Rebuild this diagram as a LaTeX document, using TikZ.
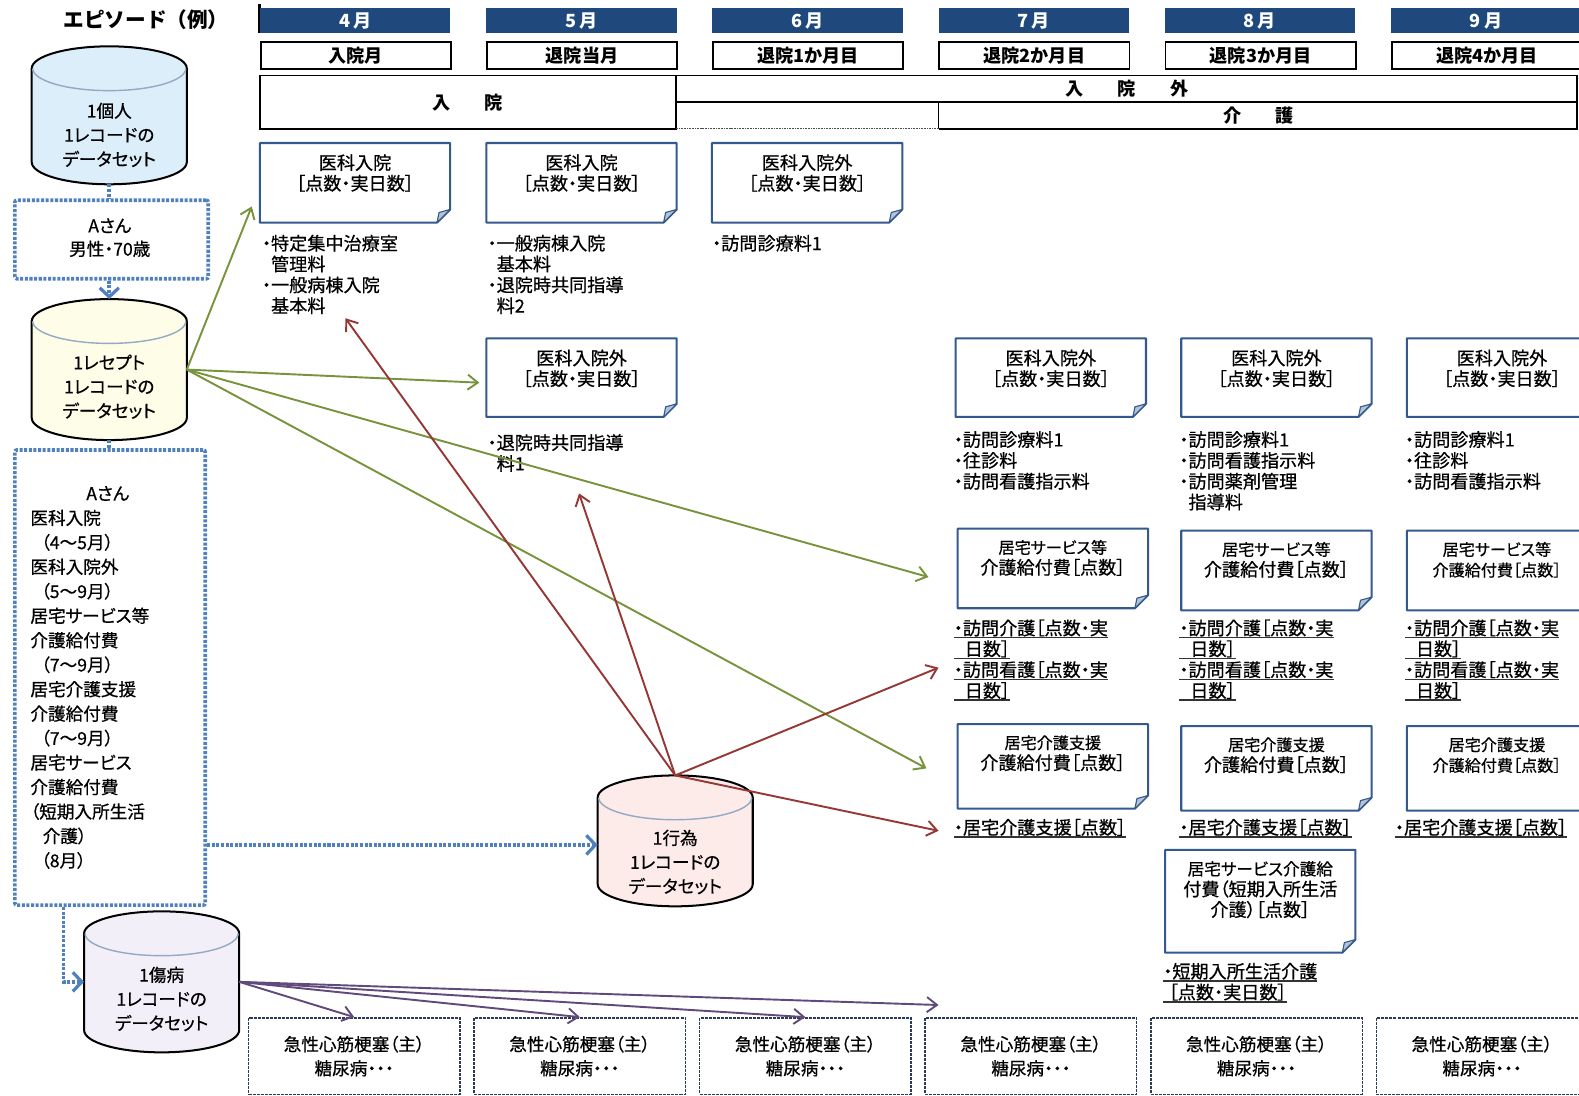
\documentclass[tikz,border=0pt]{standalone}
\usepackage{fontspec}
\setmainfont{Noto Sans CJK JP}[CharacterWidth=AlternateProportional, UprightFeatures={FakeBold=0.6}]
\newfontfamily\headfont{Noto Sans CJK JP}
\usetikzlibrary{arrows.meta,calc}

\definecolor{monthblue}{HTML}{1F497D}
\definecolor{noteblue}{HTML}{34598C}
\definecolor{foldgray}{HTML}{B4C2D6}
\definecolor{dotblue}{HTML}{4F81BD}
\definecolor{arrgreen}{HTML}{77933C}
\definecolor{arrred}{HTML}{953735}
\definecolor{arrpurple}{HTML}{604A7B}
\definecolor{rimgray}{HTML}{93A9C4}
\definecolor{diagnavy}{HTML}{2B3A57}
\definecolor{drumblue}{HTML}{DCEEFA}
\definecolor{drumyellow}{HTML}{FEFDE8}
\definecolor{drumpink}{HTML}{FDEBEA}
\definecolor{drumlilac}{HTML}{F3EFF9}
\definecolor{ulgray}{HTML}{333333}

\newcommand\fz[2]{\fontsize{#1}{#2}\selectfont}
% underlined line with a heavier rule
\newcommand\uln[1]{\setbox0=\hbox{#1}\rlap{\color{ulgray}\rule[-3.5pt]{\wd0}{1.5pt}}\box0}

% outline of a memo sheet with a folded bottom-right corner
\newcommand\foldframe[1]{%
  \draw[noteframe] (#1.north west) -- (#1.north east) -- ([yshift=13pt]#1.south east)
     -- ([xshift=-13pt]#1.south east) -- (#1.south west) -- cycle;
  \filldraw[foldflap] ([yshift=13pt]#1.south east) -- ([xshift=-11pt,yshift=10pt]#1.south east)
     -- ([xshift=-13pt]#1.south east) -- cycle;
}
% memo sheet: name, left, top, height, title
\newcommand\memo[5]{%
  \node[memobox, minimum height=#4pt] (#1) at (#2,#3) {};
  \foldframe{#1}
  \node[memotitle] (#1t) at ([yshift=-11pt]#1.north) {#5};
}
% database drum: name, centre x, top, bottom, fill
\newcommand\dbdrum[5]{%
  \pgfmathsetmacro\drumhalf{(#4-#3)/2}
  \pgfmathsetmacro\drumh{#4-#3}
  \begin{scope}[shift={(#2,{(#3+#4)/2})}, y=1pt]
    \filldraw[fill=#5, draw=black, line width=2pt]
      (-77,\drumhalf-22) -- (-77,-\drumhalf+22)
      arc[start angle=180, end angle=360, x radius=77pt, y radius=22pt]
      -- (77,\drumhalf-22)
      arc[start angle=0, end angle=180, x radius=77pt, y radius=22pt] -- cycle;
    \draw[rimgray, line width=1.4pt] (-76,\drumhalf-22)
      arc[start angle=180, end angle=360, x radius=76pt, y radius=22pt];
  \end{scope}
  \node[drumbox, minimum height=\drumh pt] (#1) at (#2,{(#3+#4)/2}) {};
}

\begin{document}
\begin{tikzpicture}[x=1pt, y=-1pt,
  monthbar/.style={fill=monthblue, text=white, font=\fz{18}{20}\bfseries,
    minimum width=189pt, minimum height=25pt, inner sep=0pt, anchor=north west},
  phasebox/.style={draw=black, line width=1.8pt, font=\fz{18}{20}\bfseries,
    minimum width=189pt, minimum height=27pt, inner sep=0pt, anchor=north west},
  bandline/.style={draw=black, line width=1.8pt},
  bandtext/.style={font=\fz{18}{20}\bfseries, inner sep=0pt},
  memobox/.style={minimum width=189pt, inner sep=0pt, outer sep=0pt, anchor=north west},
  noteframe/.style={draw=noteblue, line width=2pt, fill=white, line join=round},
  foldflap/.style={fill=foldgray, draw=noteblue, line width=1.1pt, line join=round},
  memotitle/.style={font=\fz{18}{20.5}, align=center, anchor=north, inner sep=0pt},
  listtext/.style={font=\fz{18}{20.7}, align=left, anchor=north west, inner sep=0pt},
  drumbox/.style={minimum width=154pt, inner sep=0pt, outer sep=0pt},
  drumtext/.style={font=\fz{17.5}{24}, align=center, inner sep=0pt},
  dotline/.style={draw=dotblue, line width=3.6pt, dash pattern=on 3pt off 1.6pt},
  dotarrow/.style={dotline, -{Straight Barb[length=9pt, width=19pt, line width=3.2pt]}},
  dotbox/.style={dotline, rounded corners=2pt, inner sep=0pt, anchor=north west},
  garrow/.style={draw=arrgreen, line width=1.9pt, -{Straight Barb[length=10pt, width=15pt]}},
  rarrow/.style={draw=arrred, line width=1.9pt, -{Straight Barb[length=10pt, width=15pt]}},
  parrow/.style={draw=arrpurple, line width=1.9pt, -{Straight Barb[length=10pt, width=15pt]}},
  diagbox/.style={draw=diagnavy, line width=1.5pt, dash pattern=on 3pt off 1pt,
    minimum width=210pt, minimum height=76pt, anchor=north west,
    font=\fz{17.5}{24}, align=center, inner sep=0pt},
]
\useasboundingbox (0,0) rectangle (1568,1088);
\fill[white] (0,0) rectangle (1568,1088);
\clip (0,0) rectangle (1568,1088);

% ---------- title ----------
\node[font=\headfont\fz{20.5}{24}\bfseries, inner sep=0pt] (title) at (145,20) {エピソード（例）};
\fill[black] (256,4) rectangle (259,33);

% ---------- month header ----------
\foreach \m/\p [count=\i from 0] in {4/入院月,5/退院当月,6/退院1か月目,7/退院2か月目,8/退院3か月目,9/退院4か月目}{
  \node[monthbar] (m\m) at ({258+224.6*\i},8) {\m\,月};
  \node[phasebox] (p\m) at ({258+224.6*\i},41) {\p};
}

% ---------- status band ----------
\draw[bandline] (258,75) rectangle (671,128);
\draw[bandline] (671,75) -- (1566,75) -- (1566,128) -- (932,128);
\draw[bandline] (671,101) -- (1566,101);
\draw[bandline] (932,101) -- (932,128);
\draw[black!70, line width=1pt, dash pattern=on 1pt off 0.6pt] (671,128) -- (932,128);
\node[bandtext] (inpatient) at (464.5,102) {入\hspace{1.9em}院};
\node[bandtext] (outpatient) at (1119,88) {入\hspace{1.9em}院\hspace{1.9em}外};
\node[bandtext] (care) at (1250,115) {介\hspace{1.9em}護};

% ---------- memo sheets ----------
\memo{n4a}{258}{142}{79}{医科入院\\［点数・実日数］}
\memo{n5a}{483}{142}{79}{医科入院\\［点数・実日数］}
\memo{n6a}{707}{142}{79}{医科入院外\\［点数・実日数］}
\memo{n5b}{483}{336}{78}{医科入院外\\［点数・実日数］}
\memo{n7b}{949}{336}{78}{医科入院外\\［点数・実日数］}
\memo{n8b}{1173}{336}{78}{医科入院外\\［点数・実日数］}
\memo{n9b}{1397}{336}{78}{医科入院外\\［点数・実日数］}
\memo{n7c}{951}{525}{79}{\fz{16}{20.5}居宅サービス等\\介護給付費［点数］}
\memo{n8c}{1173}{527}{79}{\fz{16}{20.5}居宅サービス等\\介護給付費［点数］}
\memo{n7d}{951}{719}{84}{\fz{16}{20.5}居宅介護支援\\介護給付費［点数］}
\memo{n8d}{1173}{721}{84}{\fz{16}{20.5}居宅介護支援\\介護給付費［点数］}
\memo{n8e}{1157}{844}{102}{\fz{16.5}{21}居宅サービス介護給\\付費（短期入所生活\\介護）［点数］}
% the last column runs past the right edge, so its titles sit a little left of centre
\node[memobox, minimum height=79pt] (n9c) at (1397,527) {};
\foldframe{n9c}
\node[memotitle, font=\fz{16}{20.5}] (n9ct) at ([xshift=-5pt,yshift=-11pt]n9c.north) {居宅サービス等\\介護給付費［点数］};
\node[memobox, minimum height=84pt] (n9d) at (1397,721) {};
\foldframe{n9d}
\node[memotitle, font=\fz{16}{20.5}] (n9dt) at ([xshift=-5pt,yshift=-11pt]n9d.north) {居宅介護支援\\介護給付費［点数］};

% ---------- item lists ----------
\node[listtext] (l4a) at (260,233) {・特定集中治療室\\\hspace{0.5em}管理料\\・一般病棟入院\\\hspace{0.5em}基本料};
\node[listtext] (l5a) at (484,233) {・一般病棟入院\\\hspace{0.5em}基本料\\・退院時共同指導\\\hspace{0.5em}料2};
\node[listtext] (l6a) at (707,233) {・訪問診療料1};
\node[listtext] (l5b) at (484,431) {・退院時共同指導\\\hspace{0.5em}料1};
\node[listtext] (l7b) at (947,428) {・訪問診療料1\\・往診料\\・訪問看護指示料};
\node[listtext] (l8b) at (1171,428) {・訪問診療料1\\・訪問看護指示料\\・訪問薬剤管理\\\hspace{0.5em}指導料};
\node[listtext] (l9b) at (1395,428) {・訪問診療料1\\・往診料\\・訪問看護指示料};
\foreach \nm/\xx in {l7c/947,l8c/1171,l9c/1395}{
  \node[listtext] (\nm) at (\xx,615) {\uln{・訪問介護［点数・実}\\\uln{\hspace{0.6em}日数］}\\\uln{・訪問看護［点数・実}\\\uln{\hspace{0.6em}日数］}};
}
\node[listtext] (l7d) at (947,813) {\uln{・居宅介護支援［点数］}};
\node[listtext] (l8d) at (1171,813) {\uln{・居宅介護支援［点数］}};
\node[listtext] (l9d) at (1385,813) {\uln{・居宅介護支援［点数］}};
\node[listtext] (l8e) at (1155,956) {\uln{・短期入所生活介護}\\\uln{\hspace{0.3em}［点数・実日数］}};

% ---------- diagnosis boxes ----------
\foreach \i in {1,...,6}{
  \node[diagbox] (d\i) at ({246+224*(\i-1)},1010) {急性心筋梗塞（主）\\糖尿病・・・};
}

% ---------- databases ----------
\dbdrum{c1}{108.5}{46}{183}{drumblue}
\node[drumtext] (c1t) at (108.5,134) {1個人\\1レコードの\\データセット};
\dbdrum{c2}{108.5}{297}{437}{drumyellow}
\node[drumtext] (c2t) at (108.5,384) {1レセプト\\1レコードの\\データセット};
\dbdrum{c3}{670.5}{770}{900}{drumpink}
\node[drumtext] (c3t) at (670.5,856) {1行為\\1レコードの\\データセット};
\dbdrum{c4}{160.5}{905}{1045}{drumlilac}
\node[drumtext] (c4t) at (160.5,992) {1傷病\\1レコードの\\データセット};

% ---------- patient boxes ----------
\node[dotbox, minimum width=192pt, minimum height=78pt] (abox) at (13,197) {};
\node[drumtext, font=\fz{17.5}{23}] (aboxt) at (109,236) {Aさん\\男性・70歳};
\node[dotbox, minimum width=189pt, minimum height=452pt] (bigbox) at (13,445) {};
\node[drumtext] (bigA) at (107,490) {Aさん};
\node[listtext, font=\fz{17.5}{24.3}] (bigL) at (30,506) {医科入院\\\hspace{0.6em}（4～5月）\\医科入院外\\\hspace{0.6em}（5～9月）\\居宅サービス等\\介護給付費\\\hspace{0.6em}（7～9月）\\居宅介護支援\\介護給付費\\\hspace{0.6em}（7～9月）\\居宅サービス\\介護給付費\\（短期入所生活\\\hspace{0.7em}介護）\\\hspace{0.6em}（8月）};

% ---------- dotted links ----------
\draw[dotline] (c1.south) -- (c1.south |- abox.north);
\draw[dotarrow] (c2.north |- abox.south) -- (c2.north);
\draw[dotline] (c2.south) -- (c2.south |- bigbox.north);
\draw[dotarrow] ([yshift=-4pt]bigbox.east |- c3.west) -- ([yshift=-4pt]c3.west);
\draw[dotarrow] ([xshift=50pt]bigbox.south west) |- (c4.west);

% ---------- arrow targets ----------
\coordinate (g1) at (250,205);
\coordinate (g2) at (476,380);
\coordinate (g3) at (922,573);
\coordinate (g4) at (920,763);
\coordinate (r1) at (343,316);
\coordinate (r2) at (575,490);
\coordinate (r3) at (932,663);
\coordinate (r4) at (932,825);
\coordinate (p4) at (932,998);

% ---------- receipt links (green) ----------
\draw[garrow] (c2.east) -- (g1);
\draw[garrow] (c2.east) -- (g2);
\draw[garrow] (c2.east) -- (g3);
\draw[garrow] (c2.east) -- (g4);

% ---------- procedure links (red) ----------
\draw[rarrow] (c3.north) -- (r1);
\draw[rarrow] (c3.north) -- (r2);
\draw[rarrow] (c3.north) -- (r3);
\draw[rarrow] (c3.north) -- (r4);

% ---------- diagnosis links (purple) ----------
\draw[parrow] (c4.east) -- (d1.north);
\draw[parrow] (c4.east) -- (d2.north);
\draw[parrow] (c4.east) -- (d3.north);
\draw[parrow] (c4.east) -- (p4);
\end{tikzpicture}
\end{document}
